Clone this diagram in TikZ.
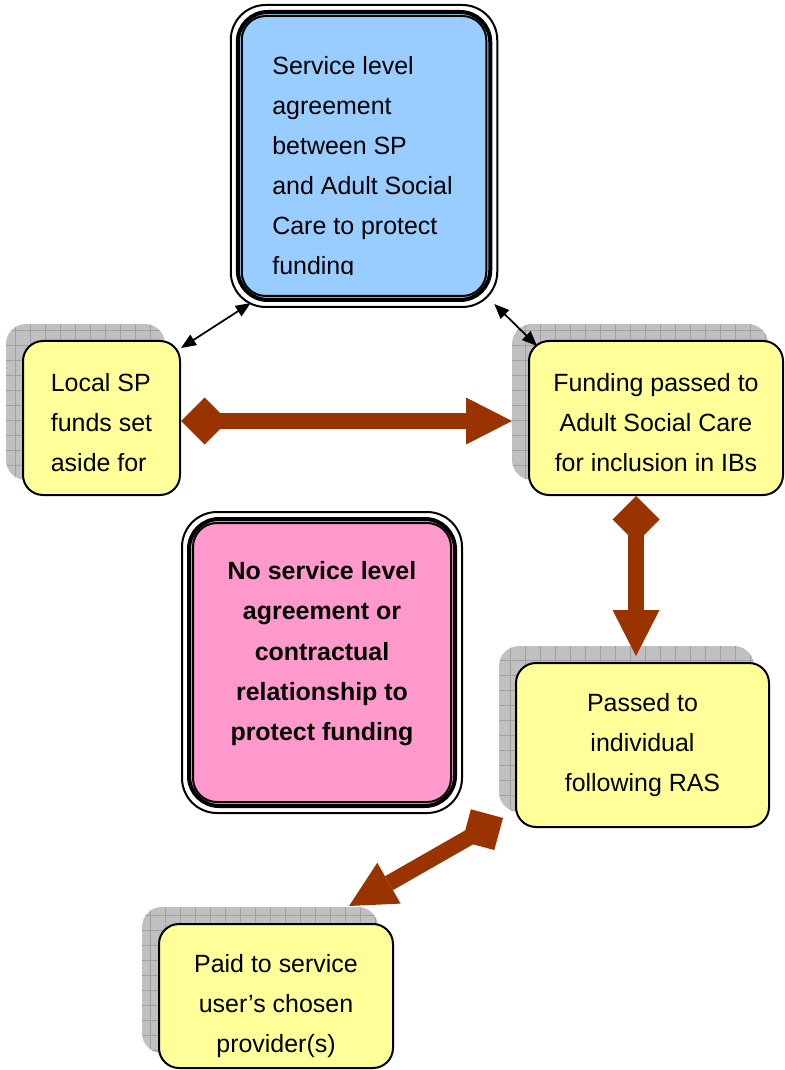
\documentclass[tikz,border=0pt]{standalone}
\usepackage{fontspec}
\setmainfont{Liberation Sans}
\usetikzlibrary{arrows.meta, backgrounds}

\definecolor{slablue}{HTML}{99CCFF}
\definecolor{nopink}{HTML}{FF99CC}
\definecolor{boxyellow}{HTML}{FFFF99}
\definecolor{flowbrown}{HTML}{993300}
\definecolor{shadowgray}{HTML}{C0C0C0}
\definecolor{gridgray}{HTML}{A0A0A0}

\newcommand\boxfont{\fontsize{14.2pt}{22.8pt}\selectfont}
\newcommand\topgap[1]{\rule{0pt}{#1}}
\newcommand\bottomgap[1]{\rule[-#1]{0pt}{#1}}

\tikzset{
  yellowbox/.style={draw, line width=0.04cm, fill=boxyellow, rounded corners=0.4cm,
    inner sep=0pt, align=center, font=\boxfont},
  framebox/.style={draw, line width=0.08cm, rounded corners=0.6cm, inner sep=0pt,
    align=center, font=\boxfont},
  flow/.style={flowbrown, line width=0.32cm,
    {Diamond[length=0.94cm, width=0.94cm, line width=0pt]}-{Triangle[length=0.92cm, width=0.94cm, line width=0pt]}},
  link/.style={line width=0.035cm,
    {Triangle[length=0.3cm, width=0.24cm]}-{Triangle[length=0.3cm, width=0.24cm]}},
}

% grey squared shadow up and left of a box
\newcommand\gridshadow[1]{%
  \begin{scope}[on background layer]
    \begin{scope}
      \clip[rounded corners=0.4cm] ([shift={(-0.32,0.32)}]#1.south west) rectangle ([shift={(-0.32,0.32)}]#1.north east);
      \fill[shadowgray] ([shift={(-0.32,0.32)}]#1.south west) rectangle ([shift={(-0.32,0.32)}]#1.north east);
      \draw[gridgray, line width=0.01cm, step=0.3] ([shift={(-0.32,0.32)}]#1.south west) grid ([shift={(-0.32,0.32)}]#1.north east);
    \end{scope}
  \end{scope}}

% thin outer and inner lines round a framed box
\newcommand\rings[1]{%
  \draw[line width=0.04cm, rounded corners=0.7cm] ([shift={(-0.1,0.1)}]#1.north west) rectangle ([shift={(0.1,-0.1)}]#1.south east);
  \draw[line width=0.04cm, rounded corners=0.48cm] ([shift={(0.12,-0.12)}]#1.north west) rectangle ([shift={(-0.12,0.12)}]#1.south east);}

\begin{document}
\begin{tikzpicture}
  \useasboundingbox (0,0) rectangle (15.68,-21.4);

  % agreement box
  \node[framebox, fill=slablue, minimum width=5.05cm, minimum height=5.76cm] (sla) at (7.28,-3.12) {};
  \rings{sla}
  \begin{scope}
    \clip (4.9,-0.4) rectangle (9.8,-5.5);
    \node[anchor=north west, inner sep=0pt, align=left, font=\boxfont] (slatext) at (5.44,-1.12)
      {Service level\\agreement\\between SP\\and Adult Social\\Care to protect\\funding};
  \end{scope}

  % no agreement box
  \node[framebox, fill=nopink, minimum width=5.32cm, minimum height=5.74cm, font=\boxfont\bfseries] (noagree) at (6.44,-13.25)
    {No service level\\agreement or\\contractual\\relationship to\\protect funding\bottomgap{0.46cm}};
  \rings{noagree}

  % money route
  \node[yellowbox, align=left, minimum width=3.14cm, minimum height=3.08cm] (localsp) at (2.03,-8.36)
    {\topgap{0.56cm}Local SP\\funds set\\aside for};
  \node[yellowbox, minimum width=5.08cm, minimum height=3.08cm] (ascfunds) at (13.12,-8.36)
    {\topgap{0.56cm}Funding passed to\\Adult Social Care\\for inclusion in IBs};
  \node[yellowbox, minimum width=5.06cm, minimum height=3.28cm] (passed) at (12.85,-14.9)
    {Passed to\\individual\\following RAS};
  \node[yellowbox, minimum width=4.68cm, minimum height=2.88cm] (paid) at (5.52,-19.92)
    {\topgap{0.78cm}Paid to service\\user’s chosen\\provider(s)};

  \gridshadow{localsp}
  \gridshadow{ascfunds}
  \gridshadow{passed}
  \gridshadow{paid}

  \draw[flow] ([yshift=-0.06cm]localsp.east) -- ([xshift=-0.32cm,yshift=-0.06cm]ascfunds.west);
  \draw[flow] ([xshift=-0.4cm]ascfunds.south) -- ([xshift=-0.13cm,yshift=0.12cm]passed.north);
  \draw[flow] ([xshift=-0.24cm,yshift=0.2cm]passed.south west) -- ([xshift=-0.9cm,yshift=0.34cm]paid.north east);

  \draw[link] ([yshift=-0.16cm]localsp.north east) -- ([shift={(0.3,-0.02)}]sla.south west);
  \draw[link] ([shift={(0.04,-0.04)}]sla.south east) -- ([shift={(0.18,-0.12)}]ascfunds.north west);
\end{tikzpicture}
\end{document}
